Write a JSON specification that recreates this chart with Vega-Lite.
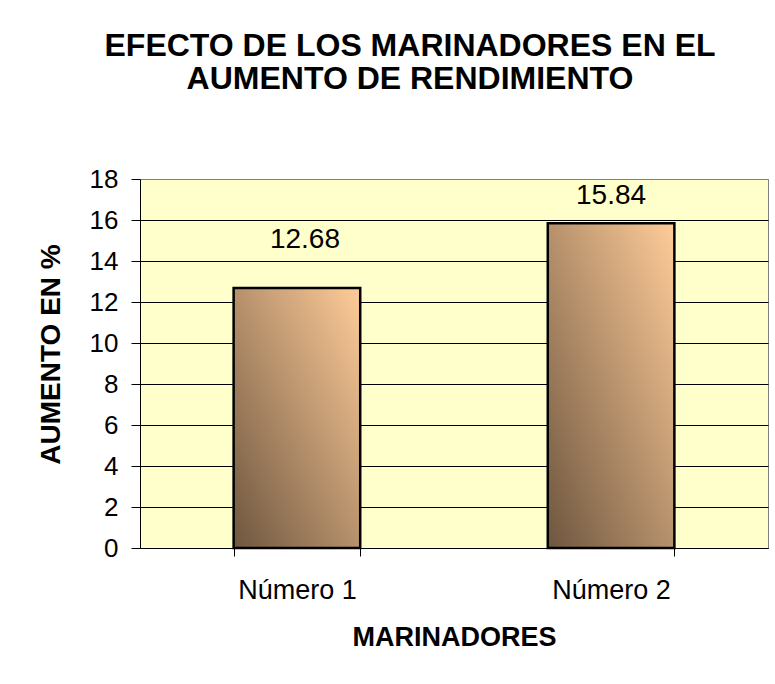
{
  "$schema": "https://vega.github.io/schema/vega-lite/v6.json",
  "width": 628,
  "height": 369,
  "autosize": {"type": "none"},
  "padding": {"left": 140, "top": 179, "right": 7, "bottom": 136},
  "background": "white",
  "title": {
    "text": ["EFECTO DE LOS MARINADORES EN EL", "AUMENTO DE RENDIMIENTO"],
    "font": "Liberation Sans",
    "fontSize": 32,
    "fontWeight": "bold",
    "color": "black",
    "anchor": "middle",
    "frame": "group",
    "dx": -44,
    "offset": 70,
    "lineHeight": 33
  },
  "data": {
    "values": [
      {"marinador": "Número 1", "aumento": 12.68},
      {"marinador": "Número 2", "aumento": 15.84}
    ]
  },
  "encoding": {
    "x": {
      "field": "marinador",
      "type": "nominal",
      "sort": null,
      "scale": {"paddingInner": 0.597, "paddingOuter": 0.298},
      "axis": {
        "title": "MARINADORES",
        "titleFont": "Liberation Sans",
        "titleFontSize": 27,
        "titleFontWeight": "bold",
        "titleColor": "black",
        "titlePadding": 21,
        "labelFont": "Liberation Sans",
        "labelFontSize": 27,
        "labelColor": "black",
        "labelAngle": 0,
        "labelPadding": 21,
        "tickBand": "extent",
        "tickSize": 8,
        "tickColor": "black",
        "domainColor": "black",
        "grid": false
      }
    },
    "y": {
      "field": "aumento",
      "type": "quantitative",
      "scale": {"domain": [0, 18], "nice": false},
      "axis": {
        "title": "AUMENTO EN %",
        "titleFont": "Liberation Sans",
        "titleFontSize": 28,
        "titleFontWeight": "bold",
        "titleColor": "black",
        "titlePadding": 24,
        "titleY": 175,
        "labelFont": "Liberation Sans",
        "labelFontSize": 26,
        "labelColor": "black",
        "labelPadding": 13,
        "values": [0, 2, 4, 6, 8, 10, 12, 14, 16, 18],
        "tickSize": 9,
        "tickColor": "black",
        "domainColor": "black",
        "grid": true,
        "gridColor": {"condition": {"test": "datum.value == 18", "value": "#808080"}, "value": "black"},
        "gridWidth": 1
      }
    }
  },
  "layer": [
    {
      "mark": {
        "type": "bar",
        "stroke": "black",
        "strokeWidth": 2.5,
        "color": {
          "gradient": "linear",
          "x1": 0, "y1": 1, "x2": 1, "y2": 0,
          "stops": [
            {"offset": 0, "color": "#6E563F"},
            {"offset": 1, "color": "#FFCC99"}
          ]
        }
      }
    },
    {
      "transform": [{"filter": "datum.marinador == 'Número 1'"}],
      "mark": {"type": "text", "font": "Liberation Sans", "fontSize": 28, "color": "black", "baseline": "alphabetic", "dy": -40, "dx": 8},
      "encoding": {"text": {"field": "aumento", "type": "quantitative", "format": ".2f"}}
    },
    {
      "transform": [{"filter": "datum.marinador == 'Número 2'"}],
      "mark": {"type": "text", "font": "Liberation Sans", "fontSize": 28, "color": "black", "baseline": "alphabetic", "dy": -19},
      "encoding": {"text": {"field": "aumento", "type": "quantitative", "format": ".2f"}}
    }
  ],
  "config": {
    "view": {"fill": "#FFFFCC", "stroke": "#808080", "strokeWidth": 1}
  }
}
